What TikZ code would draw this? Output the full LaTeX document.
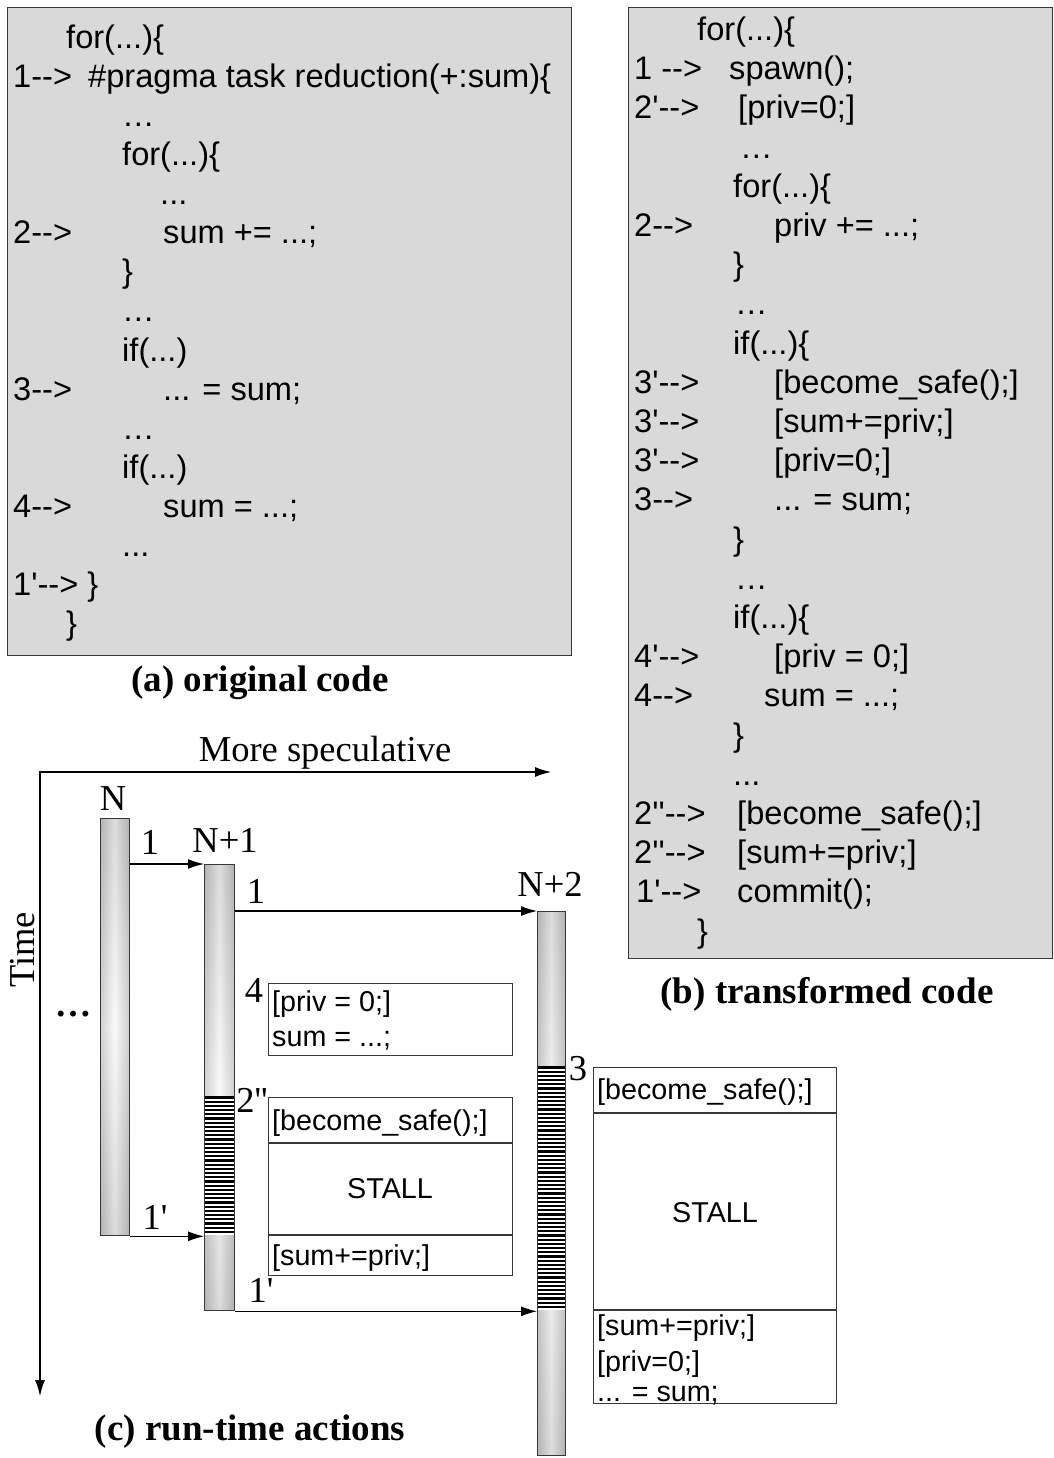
\documentclass[tikz,border=0pt]{standalone}
\usepackage{fontspec}
\newfontfamily\codefont{Liberation Sans}
\newfontfamily\tnr{Liberation Serif}
\usetikzlibrary{arrows.meta}
\colorlet{boxgray}{black!15}
\colorlet{barc}{black!30}
\colorlet{edgec}{black!78}
\begin{document}
\begin{tikzpicture}[x=1pt,y=-1pt,
  code/.style={anchor=base west, inner sep=0pt, font=\codefont\fontsize{32.6}{39}\selectfont},
  small/.style={anchor=base west, inner sep=0pt, font=\codefont\fontsize{28.7}{34}\selectfont},
  lbl/.style={anchor=base, inner sep=0pt, font=\tnr\fontsize{36.5}{40}\selectfont},
  capt/.style={anchor=base, inner sep=0pt, font=\tnr\bfseries\fontsize{37}{42}\selectfont},
  codebox/.style={draw=edgec, fill=boxgray, line width=1.3pt, inner sep=0pt, anchor=north west},
  actbox/.style={draw=edgec, fill=white, line width=1.3pt, inner sep=0pt, anchor=north west},
  barbox/.style={draw=edgec, line width=1.3pt, inner sep=0pt, anchor=north west},
  conn/.style={-{Latex[length=16pt,width=10pt]}, line width=1.2pt},
]
\useasboundingbox (0,0) rectangle (1054,1458);

% ---------- (a) original code ----------
\node[codebox, minimum width=564pt, minimum height=648pt] (boxA) at (7,7) {};
\node[code] (a0)  at (66,{48.5+39.07*0}) {for(...)\{};
\node[code] (a1l) at (13,{48.5+39.07*1}) {1-->};
\node[code] (a1r) at (88,{48.5+39.07*1}) {\#pragma task reduction(+:sum)\{};
\node[code] (a2)  at (122,{48.5+39.07*2}) {…};
\node[code] (a3)  at (122,{48.5+39.07*3}) {for(...)\{};
\node[code] (a4)  at (160,{48.5+39.07*4}) {...};
\node[code] (a5l) at (13,{48.5+39.07*5}) {2-->};
\node[code] (a5r) at (163,{48.5+39.07*5}) {sum += ...;};
\node[code] (a6)  at (122,{48.5+39.07*6}) {\}};
\node[code] (a7)  at (122,{48.5+39.07*7}) {…};
\node[code] (a8)  at (122,{48.5+39.07*8}) {if(...)};
\node[code] (a9l) at (13,{48.5+39.07*9}) {3-->};
\node[code] (a9r) at (163,{48.5+39.07*9}) {... = sum;};
\node[code] (a10) at (122,{48.5+39.07*10}) {…};
\node[code] (a11) at (122,{48.5+39.07*11}) {if(...)};
\node[code] (a12l) at (13,{48.5+39.07*12}) {4-->};
\node[code] (a12r) at (163,{48.5+39.07*12}) {sum = ...;};
\node[code] (a13) at (122,{48.5+39.07*13}) {...};
\node[code] (a14) at (13,{48.5+39.07*14}) {1'--> \}};
\node[code] (a15) at (66,{48.5+39.07*15}) {\}};
\node[capt] (capA) at (260,691) {(a) original code};

% ---------- (b) transformed code ----------
\node[codebox, minimum width=424pt, minimum height=951pt] (boxB) at (628,7) {};
\node[code] (b0)   at (697,{40.5+39.2*0}) {for(...)\{};
\node[code] (b1l)  at (634,{40.5+39.2*1}) {1 -->};
\node[code] (b1r)  at (729,{40.5+39.2*1}) {spawn();};
\node[code] (b2l)  at (634,{40.5+39.2*2}) {2'-->};
\node[code] (b2r)  at (738,{40.5+39.2*2}) {[priv=0;]};
\node[code] (b3)   at (740,{40.5+39.2*3}) {…};
\node[code] (b4)   at (733,{40.5+39.2*4}) {for(...)\{};
\node[code] (b5l)  at (634,{40.5+39.2*5}) {2-->};
\node[code] (b5r)  at (774,{40.5+39.2*5}) {priv += ...;};
\node[code] (b6)   at (733,{40.5+39.2*6}) {\}};
\node[code] (b7)   at (735,{40.5+39.2*7}) {…};
\node[code] (b8)   at (733,{40.5+39.2*8}) {if(...)\{};
\node[code] (b9l)  at (634,{40.5+39.2*9}) {3'-->};
\node[code] (b9r)  at (774,{40.5+39.2*9}) {[become\_safe();]};
\node[code] (b10l) at (634,{40.5+39.2*10}) {3'-->};
\node[code] (b10r) at (774,{40.5+39.2*10}) {[sum+=priv;]};
\node[code] (b11l) at (634,{40.5+39.2*11}) {3'-->};
\node[code] (b11r) at (774,{40.5+39.2*11}) {[priv=0;]};
\node[code] (b12l) at (634,{40.5+39.2*12}) {3-->};
\node[code] (b12r) at (774,{40.5+39.2*12}) {... = sum;};
\node[code] (b13)  at (733,{40.5+39.2*13}) {\}};
\node[code] (b14)  at (735,{40.5+39.2*14}) {…};
\node[code] (b15)  at (733,{40.5+39.2*15}) {if(...)\{};
\node[code] (b16l) at (634,{40.5+39.2*16}) {4'-->};
\node[code] (b16r) at (774,{40.5+39.2*16}) {[priv = 0;]};
\node[code] (b17l) at (634,{40.5+39.2*17}) {4-->};
\node[code] (b17r) at (764,{40.5+39.2*17}) {sum = ...;};
\node[code] (b18)  at (733,{40.5+39.2*18}) {\}};
\node[code] (b19)  at (733,{40.5+39.2*19}) {...};
\node[code] (b20l) at (634,{40.5+39.2*20}) {2''-->};
\node[code] (b20r) at (737,{40.5+39.2*20}) {[become\_safe();]};
\node[code] (b21l) at (634,{40.5+39.2*21}) {2''-->};
\node[code] (b21r) at (737,{40.5+39.2*21}) {[sum+=priv;]};
\node[code] (b22l) at (636,{40.5+39.2*22}) {1'-->};
\node[code] (b22r) at (737,{40.5+39.2*22}) {commit();};
\node[code] (b23)  at (697,{40.5+39.2*23}) {\}};
\node[capt] (capB) at (827,1003) {(b) transformed code};

% ---------- (c) run-time actions ----------
\coordinate (origin) at (40,772);
\coordinate (specEnd) at (551,772);
\coordinate (timeEnd) at (40,1396);
\draw[{Latex[length=16pt,width=10pt]}-{Latex[length=16pt,width=10pt]}, line width=1.2pt]
  (timeEnd) -- (origin) -- (specEnd);
\node[lbl] (spec) at (325,761) {More speculative};
\node[lbl, rotate=90] (time) at (34,950) {Time};
\node[anchor=base, inner sep=0pt, font=\tnr\bfseries\fontsize{36.5}{40}\selectfont] (dots) at (73,1016) {…};

% bar shadings
\shade[top color=barc, bottom color=barc, middle color=black!4] (100,818) rectangle (129,1235);
\shade[left color=barc, right color=barc, middle color=white, opacity=0.55] (100,818) rectangle (129,1235);
\shade[top color=barc, bottom color=barc, middle color=black!4] (204,864) rectangle (234,1310);
\shade[left color=barc, right color=barc, middle color=white, opacity=0.55] (204,864) rectangle (234,1310);
\shade[top color=barc, bottom color=barc, middle color=black!4] (537,911) rectangle (565,1455);
\shade[left color=barc, right color=barc, middle color=white, opacity=0.55] (537,911) rectangle (565,1455);

% hatched (stalled) parts
\fill[white] (204,1097) rectangle (234,1235);
\foreach \k in {0,...,32} \draw[line width=2.2pt] (204,{1097.5+4.2*\k}) -- (234,{1097.5+4.2*\k});
\fill[white] (537,1067) rectangle (565,1310);
\foreach \k in {0,...,57} \draw[line width=2.2pt] (537,{1067.5+4.2*\k}) -- (565,{1067.5+4.2*\k});

% bars
\node[barbox, minimum width=29pt, minimum height=417pt] (barN) at (100,818) {};
\node[barbox, minimum width=30pt, minimum height=446pt] (barN1) at (204,864) {};
\node[barbox, minimum width=28pt, minimum height=544pt] (barN2) at (537,911) {};

\node[lbl] (lN)  at (113,810) {N};
\node[lbl] (lN1) at (225,852) {N+1};
\node[lbl] (lN2) at (550,896) {N+2};

% spawn / commit arrows
\draw[conn] (barN.east |- barN1.north) -- (barN1.north west);
\draw[conn] (barN.south east) -- (barN.south east -| barN1.west);
\draw[conn] (barN1.east |- barN2.north) -- (barN2.north west);
\draw[conn] (barN1.south east) -- (barN1.south east -| barN2.west);
\node[lbl] (l1a) at (150,854) {1};
\node[lbl] (l1b) at (256,903) {1};
\node[lbl] (l1c) at (155,1229) {1'};
\node[lbl] (l1d) at (261,1302) {1'};

% action box 4
\node[actbox, minimum width=244pt, minimum height=72pt] (box4) at (268,983) {};
\node[lbl] (l4) at (254,1002) {4};
\node[small] (t4a) at (272,1011) {[priv = 0;]};
\node[small] (t4b) at (272,1046) {sum = ...;};

% action box 2''
\node[actbox, minimum width=244pt, minimum height=178pt] (box2) at (268,1097) {};
\draw[edgec, line width=1.3pt] (268,1143) -- (512,1143);
\draw[edgec, line width=1.3pt] (268,1235) -- (512,1235);
\node[lbl] (l2) at (252,1112) {2''};
\node[small] (t2a) at (272,1130) {[become\_safe();]};
\node[small, anchor=base] (t2b) at (390,1198) {STALL};
\node[small] (t2c) at (272,1265) {[sum+=priv;]};

% action box 3
\node[actbox, minimum width=243pt, minimum height=336pt] (box3) at (593,1067) {};
\draw[edgec, line width=1.3pt] (593,1113) -- (836,1113);
\draw[edgec, line width=1.3pt] (593,1310) -- (836,1310);
\node[lbl] (l3) at (578,1080) {3};
\node[small] (t3a) at (597,1099) {[become\_safe();]};
\node[small, anchor=base] (t3b) at (715,1222) {STALL};
\node[small] (t3c) at (597,1335) {[sum+=priv;]};
\node[small] (t3d) at (597,1371) {[priv=0;]};
\node[small] (t3e) at (597,1401) {... = sum;};

\node[capt] (capC) at (250,1440) {(c) run-time actions};
\end{tikzpicture}
\end{document}
